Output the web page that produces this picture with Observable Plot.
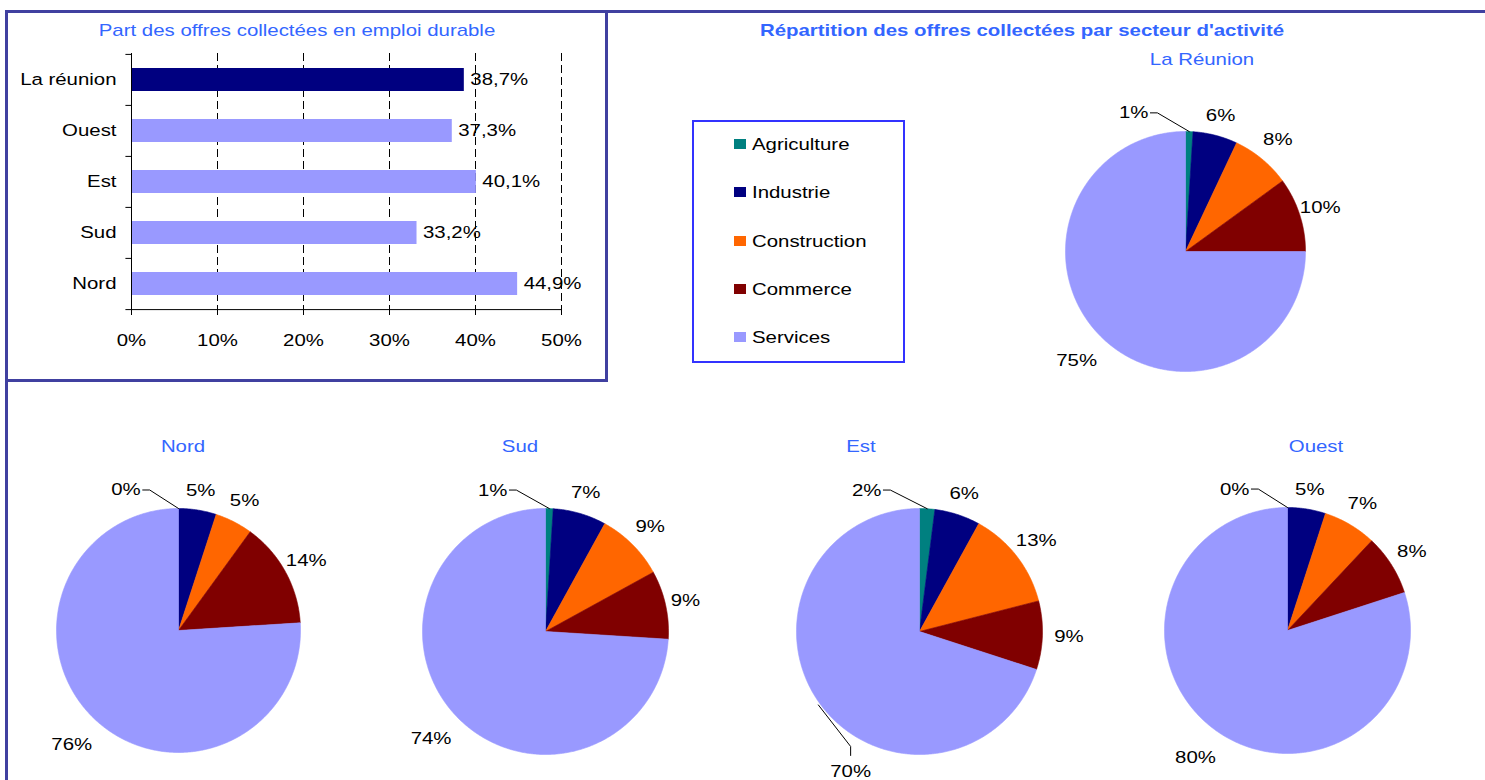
<!DOCTYPE html>
<html>
<head>
<meta charset="utf-8">
<script src="https://cdn.jsdelivr.net/npm/d3@7"></script>
<script src="https://cdn.jsdelivr.net/npm/@observablehq/plot@0.6"></script>
<style>
html, body { margin: 0; padding: 0; background: #fff; overflow: hidden; }
#root { position: relative; width: 1485px; height: 780px; overflow: hidden;
  font-family: "Liberation Sans", Arial, sans-serif; font-size: 17px; color: #000; background: #fff; }
.t { position: absolute; white-space: nowrap; line-height: 1; }
</style>
</head>
<body>
<div id="root"></div>
<script>
// ---------------- DATA ----------------
const barRegions = ["La réunion", "Ouest", "Est", "Sud", "Nord"];
const barValues = [38.7, 37.3, 40.1, 33.2, 44.9];
const barTicks = [0, 10, 20, 30, 40, 50];

const sectors = ["Agriculture", "Industrie", "Construction", "Commerce", "Services"];
const sectorColors = ["#008080", "#000080", "#ff6600", "#800000", "#9999ff"];

const pieNames = ["La Réunion", "Nord", "Sud", "Est", "Ouest"];
const shareReunion = [1, 6, 8, 10, 75];
const shareNord = [0, 5, 5, 14, 76];
const shareSud = [1, 7, 9, 9, 74];
const shareEst = [2, 6, 13, 9, 70];
const shareOuest = [0, 5, 7, 8, 80];

const titleBar = "Part des offres collectées en emploi durable";
const titlePies = "Répartition des offres collectées par secteur d'activité";

// ---------------- LAYOUT / STYLE ----------------
const S = 1.2;             // horizontal text stretch of the original rendering
const FS = 17;             // font size (px)
const BLUE = "#3366ff";
const FONT = "'Liberation Sans', Arial, sans-serif";
const root = document.getElementById("root");

function stretchText(svg) {
  svg.querySelectorAll("text").forEach(t => {
    const x = +(t.getAttribute("x") || 0);
    const tr = t.getAttribute("transform") || "";
    t.setAttribute("transform", `${tr} translate(${x},0) scale(${S},1) translate(${-x},0)`);
  });
}
function label(text, x, y, opts = {}) {
  const d = document.createElement("div");
  d.className = "t";
  d.textContent = text;
  d.style.left = x + "px";
  d.style.top = y + "px";
  d.style.color = opts.color || "#000";
  if (opts.bold) d.style.fontWeight = "bold";
  d.style.fontSize = (opts.size || FS) + "px";
  if (opts.anchor === "start") {
    d.style.transformOrigin = "0 50%";
    d.style.transform = `translate(0,-50%) scaleX(${S})`;
  } else {
    d.style.transform = `translate(-50%,-50%) scaleX(${S})`;
  }
  root.appendChild(d);
  return d;
}
function box(left, top, w, h, css) {
  const d = document.createElement("div");
  d.style.position = "absolute";
  d.style.left = left + "px"; d.style.top = top + "px";
  d.style.width = w + "px"; d.style.height = h + "px";
  Object.assign(d.style, css || {});
  root.appendChild(d);
  return d;
}

// ---------------- BAR CHART ----------------
const barData = barRegions.map((region, i) => ({region, value: barValues[i]}));
const bw = 608, bh = 382, bml = 131, bmr = 47, bmt = 53, bmb = 73;
const step = (bh - bmt - bmb) / barRegions.length;
const fmt = v => v.toFixed(1).replace(".", ",") + "%";

const barSvg = Plot.plot({
  width: bw, height: bh,
  marginLeft: bml, marginRight: bmr, marginTop: bmt, marginBottom: bmb,
  style: {fontFamily: FONT, fontSize: FS + "px", background: "transparent", color: "black", overflow: "visible"},
  x: {domain: [0, 50], ticks: barTicks, tickFormat: d => d + "%", tickSize: 6, tickPadding: 18, label: null},
  y: {domain: barRegions, paddingInner: 0.55, paddingOuter: 0.275, tickSize: 0, tickPadding: 15, label: null},
  marks: [
    Plot.ruleX(barTicks.filter(d => d > 0), {stroke: "black", strokeWidth: 1, strokeDasharray: "8,4"}),
    Plot.barX(barData, {x: "value", y: "region", fill: "#9999ff", filter: d => d.region !== "La réunion"}),
    Plot.barX(barData, {x: "value", y: "region", fill: "#000080", filter: d => d.region === "La réunion"}),
    Plot.text(barData, {x: "value", y: "region", text: d => fmt(d.value), textAnchor: "start", dx: 6, fill: "black"}),
    Plot.ruleX([0], {stroke: "black"}),
    Plot.ruleY(barRegions, {y: d => d, x1: -0.65, x2: 0, dy: -step / 2, stroke: "black"}),
    Plot.ruleY(barRegions.slice(-1), {y: d => d, x1: -0.65, x2: 50, dy: step / 2, stroke: "black"})
  ]
});
stretchText(barSvg);
const barWrap = box(0, 0, bw, bh);
barWrap.appendChild(barSvg);

label(titleBar, 297, 30, {color: BLUE});
label(titlePies, 1022, 30, {color: BLUE, bold: true});

// ---------------- LEGEND ----------------
box(692, 120, 213, 243, {border: "2px solid #3333ff", boxSizing: "border-box", background: "#fff"});
sectors.forEach((s, i) => {
  const y = 144 + i * 48.3;
  box(734, y - 5, 12, 10, {background: sectorColors[i]});
  label(s, 752, y, {anchor: "start"});
});

// ---------------- PIES ----------------
const pieLayout = [
  {values: shareReunion, cx: 1185, cy: 251, r: 120, tx: 1202, ty: 59},
  {values: shareNord, cx: 178, cy: 630, r: 122, tx: 183, ty: 446},
  {values: shareSud, cx: 545, cy: 631, r: 123, tx: 520, ty: 446},
  {values: shareEst, cx: 919, cy: 631, r: 123, tx: 861, ty: 446, pushLast: 206.2},
  {values: shareOuest, cx: 1287, cy: 630, r: 123, tx: 1316, ty: 446}
];
const emW = FS * S;
const textWidth = s => [...s].reduce((w, c) => w + (c === "%" ? 0.889 : 0.556), 0) * emW;
const rad = deg => deg * Math.PI / 180;

function drawPie(name, cfg) {
  const {values, cx, cy, r} = cfg;
  const W = 380, H = 380;
  const total = d3.sum(values);
  const slices = [], labels = [], leaders = [];
  let cum = 0;
  values.forEach((v, i) => {
    const a0 = cum / total * 2 * Math.PI, a1 = (cum + v) / total * 2 * Math.PI;
    cum += v;
    const mid = (a0 + a1) / 2;
    if (v > 0) {
      const n = Math.max(2, Math.ceil((a1 - a0) / rad(0.5)));
      slices.push({sector: sectors[i], x: 0, y: 0});
      for (let k = 0; k <= n; k++) {
        const a = a0 + (a1 - a0) * k / n;
        slices.push({sector: sectors[i], x: Math.sin(a), y: Math.cos(a)});
      }
      slices.push({sector: sectors[i], x: 0, y: 0});
    }
    const text = Math.round(v / total * 100) + "%";
    const w = textWidth(text);
    let px, py;
    if (i === 0 && v <= 2) {
      // small first slice: label pushed to the upper left with a leader line
      const a = rad(-20.5), d = r + 28;
      px = Math.sin(a) * d; py = Math.cos(a) * d;
      const pts = [[px + w / 2 + 2, py], [px + w / 2 + 9, py], [Math.sin(mid) * r, Math.cos(mid) * r]];
      pts.forEach(([x, y]) => leaders.push({id: name + i, x: x / r, y: y / r}));
    } else if (cfg.pushLast && i === values.length - 1) {
      const a = rad(cfg.pushLast), d = r + 33;
      px = Math.sin(a) * d; py = Math.cos(a) * d;
      const pts = [[Math.sin(mid) * (r + 2), Math.cos(mid) * (r + 2)], [px, py + 25], [px, py + 16]];
      pts.forEach(([x, y]) => leaders.push({id: name + i, x: x / r, y: y / r}));
    } else {
      const dx = Math.sin(mid), dy = Math.cos(mid);
      const d = r + 17 + 8 * Math.abs(Math.sin(2 * mid)) + (dy < 0 ? 9 : 0);
      px = dx * d; py = dy * d;
    }
    labels.push({text, x: px / r, y: py / r});
  });

  const svg = Plot.plot({
    width: W, height: H, margin: 0,
    style: {fontFamily: FONT, fontSize: FS + "px", background: "transparent", color: "black", overflow: "visible"},
    x: {domain: [-W / 2 / r, W / 2 / r], axis: null},
    y: {domain: [-H / 2 / r, H / 2 / r], axis: null},
    color: {domain: sectors, range: sectorColors},
    marks: [
      Plot.line(slices, {x: "x", y: "y", z: "sector", fill: "sector", stroke: "sector", strokeWidth: 0.6}),
      Plot.line(leaders, {x: "x", y: "y", z: "id", stroke: "black", strokeWidth: 1}),
      Plot.text(labels, {x: "x", y: "y", text: "text", fill: "black"})
    ]
  });
  stretchText(svg);
  const wrap = box(cx - W / 2, cy - H / 2, W, H);
  wrap.appendChild(svg);
  label(name, cfg.tx, cfg.ty, {color: BLUE});
}
pieLayout.forEach((cfg, i) => drawPie(pieNames[i], cfg));

// ---------------- FRAME LINES ----------------
box(5, 10, 1480, 3, {background: "#4040a0"});
box(5, 10, 3, 770, {background: "#4040a0"});
box(605, 10, 3, 372, {background: "#4040a0"});
box(5, 379, 603, 3, {background: "#4040a0"});
</script>
</body>
</html>
